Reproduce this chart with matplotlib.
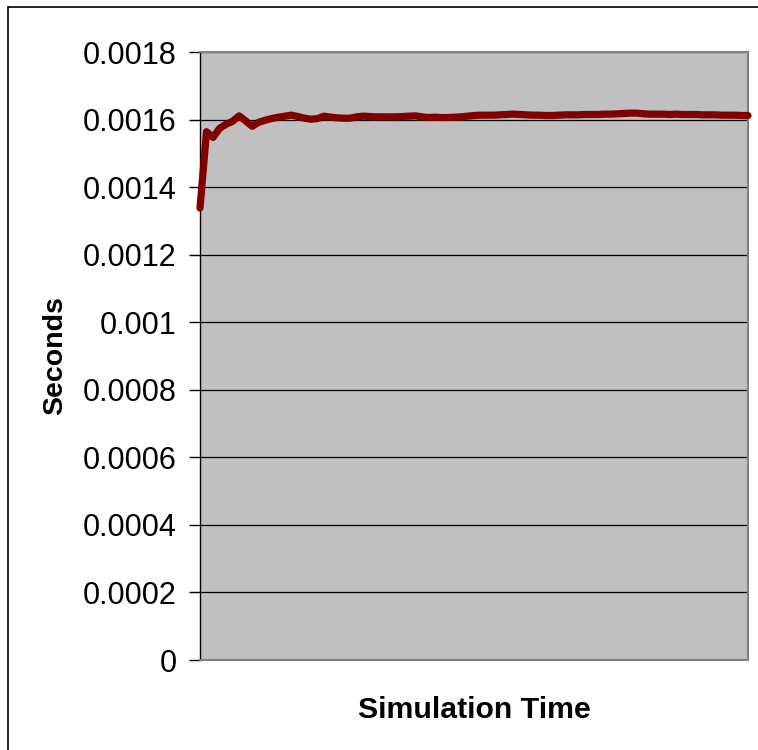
import matplotlib
matplotlib.use("Agg")
import matplotlib.pyplot as plt
import matplotlib.patches as mpatches
import numpy as np

plt.rcParams['font.family'] = ['Liberation Sans', 'DejaVu Sans']

# tiempo medio por paso de simulacion (segundos)
seconds = [
    0.001338, 0.001564, 0.001547, 0.001574, 0.001586, 0.001595, 0.001611, 0.001596,
    0.001580, 0.001592, 0.001598, 0.001603, 0.001607, 0.001610, 0.001613, 0.001609,
    0.001604, 0.001601, 0.001603, 0.001610, 0.001607, 0.001605, 0.001604, 0.001604,
    0.001608, 0.001610, 0.001609, 0.001608, 0.001608, 0.001608, 0.001608, 0.001609,
    0.001610, 0.001611, 0.001608, 0.001606, 0.001607, 0.001606, 0.001606, 0.001607,
    0.001608, 0.001610, 0.001612, 0.001613, 0.001613, 0.001613, 0.001614, 0.001615,
    0.001616, 0.001615, 0.001614, 0.001613, 0.001613, 0.001612, 0.001612, 0.001613,
    0.001614, 0.001614, 0.001614, 0.001615, 0.001615, 0.001615, 0.001616, 0.001616,
    0.001617, 0.001618, 0.001619, 0.001619, 0.001617, 0.001616, 0.001616, 0.001616,
    0.001615, 0.001616, 0.001615, 0.001615, 0.001615, 0.001614, 0.001614, 0.001614,
    0.001613, 0.001613, 0.001613, 0.001612, 0.001612,
]
steps = np.arange(len(seconds))

ytick_vals = [0, 0.0002, 0.0004, 0.0006, 0.0008, 0.001, 0.0012, 0.0014, 0.0016, 0.0018]
ytick_labels = ['0', '0.0002', '0.0004', '0.0006', '0.0008', '0.001',
                '0.0012', '0.0014', '0.0016', '0.0018']

W, H = 758, 750
fig = plt.figure(figsize=(W / 100, H / 100), dpi=100)
ax = fig.add_axes([200 / W, 1 - 660 / H, 548 / W, 608 / H])

# marco del area del grafico
marco = mpatches.Rectangle((8 / W, -0.05), 1.2, 1 - 7 / H + 0.05,
                           transform=fig.transFigure, fill=False,
                           ec='black', lw=1.2, clip_on=False)
fig.patches.append(marco)

ax.set_facecolor('#C0C0C0')
for y in ytick_vals[1:]:
    ax.axhline(y, color='black', lw=0.9, zorder=1)

ax.plot(steps, seconds, color='#800000', lw=5.2, solid_joinstyle='round',
        solid_capstyle='round', zorder=3, clip_on=False)

ax.set_xlim(0, len(seconds) - 1)
ax.set_ylim(0, 0.0018)
ax.set_xticks([])
ax.set_yticks(ytick_vals)
ax.set_yticklabels(ytick_labels, fontsize=22)
ax.tick_params(axis='y', direction='out', length=8, width=1, color='black', pad=9)

for lado in ['top', 'right', 'bottom']:
    ax.spines[lado].set_color('#808080')
    ax.spines[lado].set_linewidth(1.5)
ax.spines['left'].set_color('black')
ax.spines['left'].set_linewidth(1)

ax.set_xlabel('Simulation Time', fontsize=21.8, fontweight='bold', va='center')
ax.xaxis.set_label_coords(0.5, -(710 - 660) / 608)
ax.set_ylabel('Seconds', fontsize=20.5, fontweight='bold', va='center')
ax.yaxis.set_label_coords(-(200 - 55) / 548, 0.5)

fig.savefig('out.png', dpi=100)
